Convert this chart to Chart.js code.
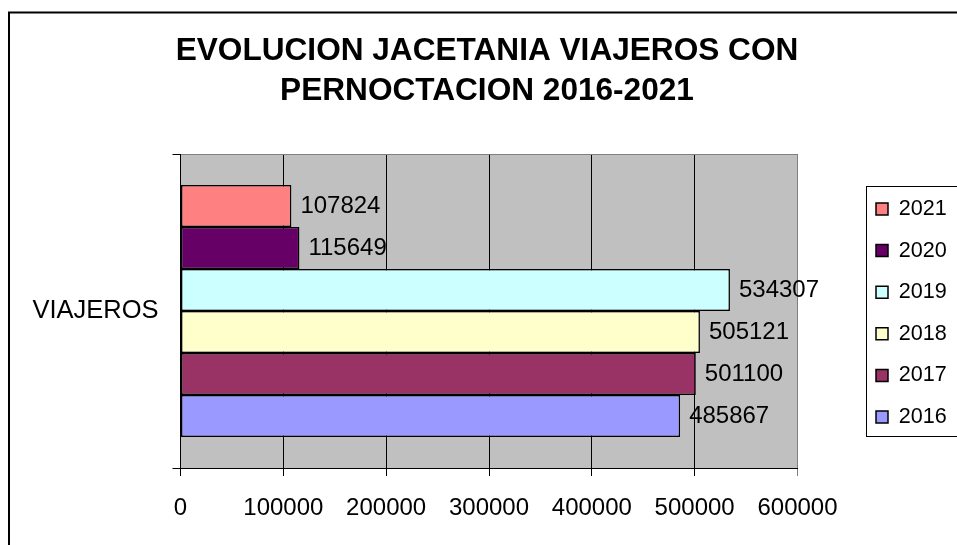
<!DOCTYPE html>
<html>
<head>
<meta charset="utf-8">
<script src="https://cdn.jsdelivr.net/npm/chart.js@4.4.1/dist/chart.umd.min.js"></script>
<style>
  html, body { margin: 0; padding: 0; background: #fff; overflow: hidden; }
  #wrap { position: relative; width: 957px; height: 545px; }
</style>
</head>
<body>
<div id="wrap"><canvas id="chart" width="957" height="545"></canvas></div>
<script>
const FONT = "'Liberation Sans', Arial, sans-serif";

const categories = ['VIAJEROS'];
const years = ['2021', '2020', '2019', '2018', '2017', '2016'];
const travellers = [107824, 115649, 534307, 505121, 501100, 485867];
const yearColors = ['#FF8080', '#660066', '#CCFFFF', '#FFFFCC', '#993366', '#9999FF'];
const xMin = 0;
const xMax = 600000;
const xStep = 100000;

// grey plot area, outer frame and the frame round the legend
const frames = {
  id: 'frames',
  beforeDraw(chart) {
    const { ctx, chartArea: a } = chart;
    ctx.save();
    ctx.fillStyle = '#C0C0C0';
    ctx.fillRect(a.left, a.top, a.right - a.left, a.bottom - a.top);
    ctx.restore();
  },
  afterDraw(chart) {
    const { ctx, legend } = chart;
    ctx.save();
    ctx.strokeStyle = '#000';
    ctx.lineWidth = 2;
    ctx.strokeRect(9, 12.5, 1000, 1000);
    const boxes = legend.legendHitBoxes;
    if (boxes && boxes.length) {
      const last = boxes[boxes.length - 1];
      const top = Math.round(boxes[0].top - 12);
      const bottom = Math.round(last.top + last.height + 8);
      ctx.lineWidth = 1;
      ctx.strokeRect(Math.round(legend.left + 10) + 0.5, top + 0.5, 200, bottom - top);
    }
    ctx.restore();
  }
};

// value written just past the end of each bar
const valueLabels = {
  id: 'valueLabels',
  afterDatasetsDraw(chart) {
    const { ctx } = chart;
    ctx.save();
    ctx.font = `24px ${FONT}`;
    ctx.fillStyle = '#000';
    ctx.textBaseline = 'middle';
    ctx.textAlign = 'left';
    chart.data.datasets.forEach((ds, i) => {
      chart.getDatasetMeta(i).data.forEach((bar, j) => {
        ctx.fillText(String(ds.data[j]), bar.x + 9, bar.y);
      });
    });
    ctx.restore();
  }
};

const datasets = years.map((year, i) => ({
  label: year,
  data: [travellers[i]],
  backgroundColor: yearColors[i],
  borderColor: '#000',
  borderWidth: 1.5,
  borderSkipped: false,
  categoryPercentage: 0.8025,
  barPercentage: 1
}));

new Chart(document.getElementById('chart'), {
  type: 'bar',
  data: { labels: categories, datasets },
  plugins: [frames, valueLabels],
  options: {
    indexAxis: 'y',
    responsive: false,
    animation: false,
    layout: { padding: { left: 18, right: 1, top: 0, bottom: 0 } },
    scales: {
      x: {
        type: 'linear',
        min: xMin,
        max: xMax,
        ticks: {
          stepSize: xStep,
          maxRotation: 0,
          color: '#000',
          font: { family: FONT, size: 24 },
          padding: 17.5,
          callback: v => String(v)
        },
        grid: {
          color: c => (c.tick && c.tick.value === xMax ? '#808080' : '#000'),
          lineWidth: 1,
          tickLength: 8
        },
        border: { color: '#000', width: 1 },
        afterFit(s) { s.height = 77; }
      },
      y: {
        type: 'category',
        ticks: { color: '#000', font: { family: FONT, size: 25.5 }, padding: 14 },
        grid: {
          offset: true,
          color: c => (c.index === 0 ? '#808080' : '#000'),
          tickColor: '#000',
          tickLength: 8
        },
        border: { color: '#000', width: 1 },
        afterFit(s) { s.width = 162.5; }
      },
      // empty strip between the plot and the legend
      gap: {
        type: 'linear',
        position: 'right',
        display: true,
        ticks: { display: false },
        grid: { display: false },
        border: { display: false },
        afterFit(s) { s.width = 58.5; }
      }
    },
    plugins: {
      title: {
        display: true,
        text: ['EVOLUCION JACETANIA VIAJEROS CON', 'PERNOCTACION 2016-2021'],
        color: '#000',
        font: { family: FONT, size: 31.6, weight: 'bold', lineHeight: 1.266 },
        padding: { top: 31, bottom: 43 }
      },
      legend: {
        position: 'right',
        align: 'center',
        fullSize: false,
        maxWidth: 100,
        title: { display: true, text: '', font: { size: 4, lineHeight: 1 }, padding: 0 },
        labels: {
          color: '#000',
          font: { family: FONT, size: 21.6 },
          boxWidth: 12,
          boxHeight: 12,
          padding: 20
        }
      },
      tooltip: { enabled: false }
    }
  }
});
</script>
</body>
</html>
